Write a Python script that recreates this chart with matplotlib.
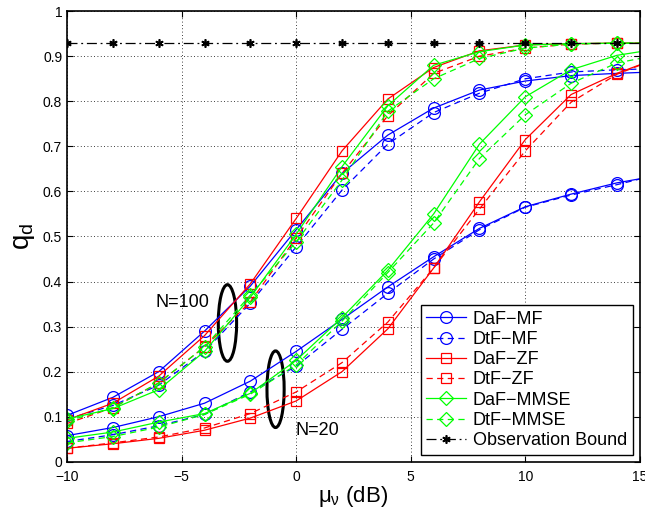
import matplotlib
matplotlib.use("Agg")
import matplotlib.pyplot as plt
from matplotlib.patches import Ellipse
import numpy as np

plt.rcParams['font.family'] = ['Liberation Sans', 'DejaVu Sans']
plt.rcParams['mathtext.fontset'] = 'custom'
plt.rcParams['mathtext.rm'] = 'Liberation Sans'
plt.rcParams['mathtext.it'] = 'Liberation Sans'

# SNR grid (dB); last point lies past the axis limit so the lines run to the edge
snr = [-10, -8, -6, -4, -2, 0, 2, 4, 6, 8, 10, 12, 14, 16]

# N = 100
daf_mf_100 = [0.103, 0.143, 0.20, 0.29, 0.39, 0.515, 0.64, 0.725, 0.785, 0.825, 0.845, 0.857, 0.862, 0.866]
dtf_mf_100 = [0.095, 0.125, 0.17, 0.245, 0.352, 0.477, 0.603, 0.705, 0.775, 0.818, 0.85, 0.865, 0.87, 0.873]
daf_zf_100 = [0.093, 0.13, 0.19, 0.28, 0.395, 0.54, 0.69, 0.805, 0.875, 0.912, 0.925, 0.928, 0.929, 0.929]
dtf_zf_100 = [0.085, 0.12, 0.175, 0.255, 0.355, 0.497, 0.64, 0.768, 0.862, 0.90, 0.918, 0.927, 0.929, 0.929]
daf_mmse_100 = [0.095, 0.118, 0.16, 0.245, 0.365, 0.505, 0.655, 0.79, 0.88, 0.91, 0.925, 0.928, 0.929, 0.929]
dtf_mmse_100 = [0.09, 0.12, 0.175, 0.255, 0.37, 0.488, 0.625, 0.778, 0.85, 0.895, 0.918, 0.927, 0.929, 0.929]

# N = 20
daf_mf_20 = [0.058, 0.076, 0.10, 0.13, 0.179, 0.245, 0.316, 0.388, 0.455, 0.518, 0.566, 0.594, 0.619, 0.637]
dtf_mf_20 = [0.045, 0.06, 0.08, 0.105, 0.155, 0.212, 0.294, 0.374, 0.45, 0.515, 0.565, 0.592, 0.615, 0.64]
daf_zf_20 = [0.03, 0.04, 0.052, 0.07, 0.097, 0.135, 0.20, 0.295, 0.43, 0.577, 0.715, 0.815, 0.862, 0.9]
dtf_zf_20 = [0.03, 0.042, 0.055, 0.075, 0.107, 0.155, 0.22, 0.31, 0.43, 0.561, 0.69, 0.798, 0.86, 0.9]
daf_mmse_20 = [0.052, 0.066, 0.088, 0.107, 0.152, 0.225, 0.32, 0.425, 0.55, 0.705, 0.81, 0.87, 0.902, 0.918]
dtf_mmse_20 = [0.042, 0.056, 0.077, 0.105, 0.15, 0.215, 0.312, 0.42, 0.53, 0.673, 0.77, 0.84, 0.885, 0.905]

obs_bound = [0.929] * len(snr)

labels = ['DaF\u2212MF', 'DtF\u2212MF', 'DaF\u2212ZF', 'DtF\u2212ZF',
          'DaF\u2212MMSE', 'DtF\u2212MMSE', 'Observation Bound']

fig = plt.figure(figsize=(6.45, 5.08), dpi=100)
ax = fig.add_axes([0.104, 0.091, 0.888, 0.887])

dash = (0, (5, 3.5))
styles = [('b', 'o', '-'), ('b', 'o', dash), ('r', 's', '-'), ('r', 's', dash),
          ('#00ff00', 'D', '-'), ('#00ff00', 'D', dash)]
sizes = {'o': 8.5, 's': 7.5, 'D': 7.5}

series_100 = [daf_mf_100, dtf_mf_100, daf_zf_100, dtf_zf_100, daf_mmse_100, dtf_mmse_100]
series_20 = [daf_mf_20, dtf_mf_20, daf_zf_20, dtf_zf_20, daf_mmse_20, dtf_mmse_20]

handles = []
for (c, m, ls), y100, y20, lab in zip(styles, series_100, series_20, labels):
    ms = sizes[m]
    h, = ax.plot(snr, y100, color=c, marker=m, ls=ls, lw=0.9, ms=ms, mfc='none', mew=0.9, label=lab)
    ax.plot(snr, y20, color=c, marker=m, ls=ls, lw=0.9, ms=ms, mfc='none', mew=0.9)
    handles.append(h)

# MATLAB style asterisk marker
h, = ax.plot(snr, obs_bound, color='k', marker=(6, 2, 0), ls=(0, (8, 3, 1.5, 3)), lw=0.9,
             ms=6, mew=1.2, label=labels[-1])
handles.append(h)

# ellipses marking the two groups
ax.add_patch(Ellipse((-3.0, 0.308), 0.8, 0.17, fill=False, ec='k', lw=2.2))
ax.add_patch(Ellipse((-0.9, 0.161), 0.75, 0.17, fill=False, ec='k', lw=2.2))
ax.text(-4.95, 0.354, 'N=100', fontsize=13, ha='center', va='center')
ax.text(-0.05, 0.07, 'N=20', fontsize=13, ha='left', va='center')

ax.set_xlim(-10, 15)
ax.set_ylim(0, 1)
ax.set_xticks([-10, -5, 0, 5, 10, 15])
ax.set_xticklabels(['\u221210', '\u22125', '0', '5', '10', '15'])
ax.set_yticks(np.arange(0, 1.01, 0.1))
ax.set_yticklabels(['0', '0.1', '0.2', '0.3', '0.4', '0.5', '0.6', '0.7', '0.8', '0.9', '1'])
ax.tick_params(direction='in', top=True, right=True, labelsize=10, length=4)
ax.tick_params(axis='x', pad=6)
ax.grid(True, ls=(0, (1, 3)), color='k', lw=0.6)
for s in ax.spines.values():
    s.set_linewidth(1.2)

ax.set_xlabel(r'$\mu_\nu$ (dB)', fontsize=16, labelpad=0)
ax.set_ylabel(r'$q_d$', fontsize=20, labelpad=4)

leg = ax.legend(handles=handles, loc='lower right', fontsize=13, frameon=True, fancybox=False,
                edgecolor='k', framealpha=1, labelspacing=0.18, handlelength=2.2,
                handletextpad=0.4, borderpad=0.3, borderaxespad=0.4)
leg.get_frame().set_linewidth(1.0)

fig.savefig('out.png', dpi=100)
